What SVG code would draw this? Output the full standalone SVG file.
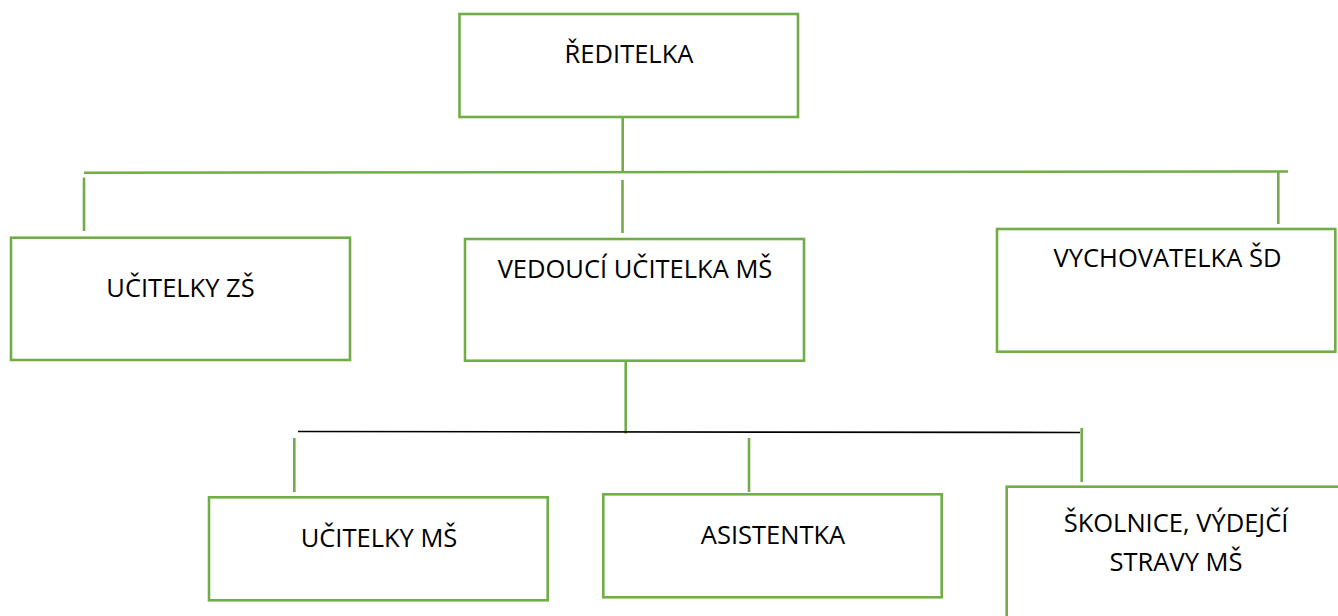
<svg xmlns="http://www.w3.org/2000/svg" width="1338" height="616" viewBox="0 0 1338 616">
<style>
.box{fill:#ffffff;stroke:#70AD47;stroke-width:2.6}
.g{stroke:#70AD47;stroke-width:2.6;fill:none}
.k{stroke:#000000;stroke-width:1.6;fill:none}
text{font-family:"Open Sans","Noto Sans","Liberation Sans",sans-serif;font-size:25.5px;fill:#000000;text-anchor:middle}
</style>
<rect width="1338" height="616" fill="#ffffff"/>
<g id="connectors">
<line class="g" x1="622.7" y1="117" x2="622.7" y2="172"/>
<line class="g" x1="84" y1="172.7" x2="1288" y2="171.5"/>
<line class="g" x1="84" y1="177.5" x2="84" y2="231"/>
<line class="g" x1="622.5" y1="180" x2="622.5" y2="233"/>
<line class="g" x1="1278.3" y1="171" x2="1278.3" y2="224"/>
<line class="g" x1="625.7" y1="361" x2="625.7" y2="433.5"/>
<line class="k" x1="298" y1="431.5" x2="1080" y2="432.5"/>
<line class="g" x1="294.3" y1="438" x2="294.3" y2="492"/>
<line class="g" x1="749" y1="438" x2="749" y2="492"/>
<line class="g" x1="1081.7" y1="428" x2="1081.7" y2="482"/>
</g>
<g id="reditelka">
<rect class="box" x="459.5" y="14" width="338.5" height="103"/>
<text x="629" y="63">ŘEDITELKA</text>
</g>
<g id="ucitelky-zs">
<rect class="box" x="11" y="237.7" width="339" height="122.3"/>
<text x="180.5" y="296.7">UČITELKY ZŠ</text>
</g>
<g id="vedouci">
<rect class="box" x="465" y="239" width="339" height="121.7"/>
<text x="635" y="278.3">VEDOUCÍ UČITELKA MŠ</text>
</g>
<g id="vychovatelka">
<rect class="box" x="997" y="229" width="338.3" height="122.7"/>
<text x="1167.5" y="267">VYCHOVATELKA ŠD</text>
</g>
<g id="ucitelky-ms">
<rect class="box" x="209" y="497.3" width="338.7" height="103"/>
<text x="379" y="546.7">UČITELKY MŠ</text>
</g>
<g id="asistentka">
<rect class="box" x="603.3" y="494.3" width="338.4" height="103"/>
<text x="773" y="544">ASISTENTKA</text>
</g>
<g id="skolnice">
<rect class="box" x="1006.7" y="486.7" width="345" height="140"/>
<text x="1176" y="532">ŠKOLNICE, VÝDEJČÍ</text>
<text x="1176" y="570.5">STRAVY MŠ</text>
</g>
</svg>
